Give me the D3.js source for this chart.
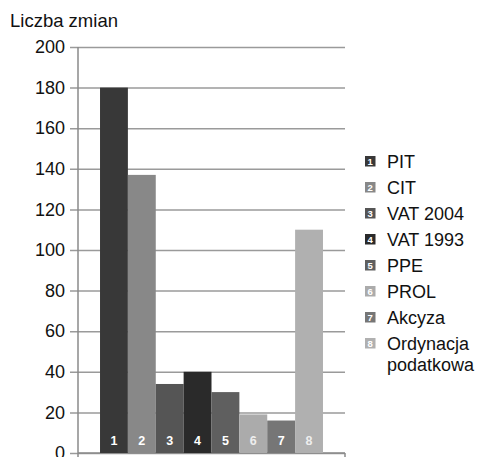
<!DOCTYPE html>
<html>
<head>
<meta charset="utf-8">
<script src="https://cdn.jsdelivr.net/npm/d3@7"></script>
<style>
  html, body { margin: 0; padding: 0; background: #fff; }
  svg { display: block; font-family: "Liberation Sans", Arial, sans-serif; }
</style>
</head>
<body>
<svg id="chart" width="483" height="457"></svg>
<script>
// Number of amendments per tax act
const categories = ["PIT", "CIT", "VAT 2004", "VAT 1993", "PPE", "PROL", "Akcyza", "Ordynacja podatkowa"];
const values = [180, 137, 34, 40, 30, 19, 16, 110];
const barColors = ["#383838", "#888888", "#555555", "#2a2a2a", "#5f5f5f", "#ababab", "#767676", "#b0b0b0"];
const yTicks = [0, 20, 40, 60, 80, 100, 120, 140, 160, 180, 200];
const legendLines = [["PIT"], ["CIT"], ["VAT 2004"], ["VAT 1993"], ["PPE"], ["PROL"], ["Akcyza"], ["Ordynacja", "podatkowa"]];

const svg = d3.select("#chart");
const plotLeft = 78, plotRight = 345, plotTop = 47, plotBottom = 453;

const x = d3.scaleBand()
  .domain(d3.range(categories.length))
  .range([plotLeft, plotRight])
  .paddingInner(0)
  .paddingOuter(0.79);

const y = d3.scaleLinear().domain([0, 200]).range([plotBottom, plotTop]);

// Horizontal gridlines with tick marks extending left of the axis
const yAxis = d3.axisLeft(y)
  .tickValues(yTicks)
  .tickSize(-(plotRight - plotLeft))
  .tickPadding(12);

const gy = svg.append("g")
  .attr("transform", `translate(${plotLeft},0)`)
  .call(yAxis);
gy.select(".domain").remove();
gy.selectAll(".tick line")
  .attr("x1", -8)
  .attr("stroke", "#9a9a9a")
  .attr("stroke-width", 1.5);
gy.selectAll(".tick text")
  .attr("fill", "#111")
  .attr("font-size", 18)
  .attr("x", -13);

// Vertical axis line
svg.append("line")
  .attr("x1", plotLeft).attr("x2", plotLeft)
  .attr("y1", plotTop).attr("y2", plotBottom + 6)
  .attr("stroke", "#8a8a8a").attr("stroke-width", 1.5);

// Baseline with end tick
svg.append("line")
  .attr("x1", plotLeft).attr("x2", plotRight)
  .attr("y1", plotBottom).attr("y2", plotBottom)
  .attr("stroke", "#8a8a8a").attr("stroke-width", 1.5);
svg.append("line")
  .attr("x1", plotRight).attr("x2", plotRight)
  .attr("y1", plotBottom).attr("y2", plotBottom + 6)
  .attr("stroke", "#8a8a8a").attr("stroke-width", 1.5);

// Bars
svg.append("g").selectAll("rect")
  .data(values)
  .join("rect")
  .attr("x", (d, i) => x(i))
  .attr("y", d => y(d))
  .attr("width", x.bandwidth())
  .attr("height", d => y(0) - y(d))
  .attr("fill", (d, i) => barColors[i]);

// Bar numbers
svg.append("g").selectAll("text")
  .data(values)
  .join("text")
  .attr("x", (d, i) => x(i) + x.bandwidth() / 2)
  .attr("y", plotBottom - 8)
  .attr("text-anchor", "middle")
  .attr("fill", (d, i) => (i === 5 || i === 7) ? "#eeeeee" : "#ffffff")
  .attr("font-size", 12.5)
  .attr("font-weight", "bold")
  .text((d, i) => i + 1);

// Axis title
svg.append("text")
  .attr("x", 10)
  .attr("y", 27)
  .attr("font-size", 18.5)
  .attr("fill", "#111")
  .text("Liczba zmian");

// Legend
const legend = svg.append("g");
const rowStep = 26, firstRow = 161;
legendLines.forEach((lines, i) => {
  const cy = firstRow + i * rowStep;
  const g = legend.append("g");
  g.append("rect")
    .attr("x", 365).attr("y", cy - 5)
    .attr("width", 10.5).attr("height", 10.5)
    .attr("fill", barColors[i]);
  g.append("text")
    .attr("x", 370.25).attr("y", cy + 4)
    .attr("text-anchor", "middle")
    .attr("font-size", 9.5)
    .attr("font-weight", "bold")
    .attr("fill", "#fff")
    .text(i + 1);
  lines.forEach((line, j) => {
    g.append("text")
      .attr("x", 387)
      .attr("y", cy + 6.5 + j * 21)
      .attr("font-size", 18)
      .attr("fill", "#111")
      .text(line);
  });
});
</script>
</body>
</html>
